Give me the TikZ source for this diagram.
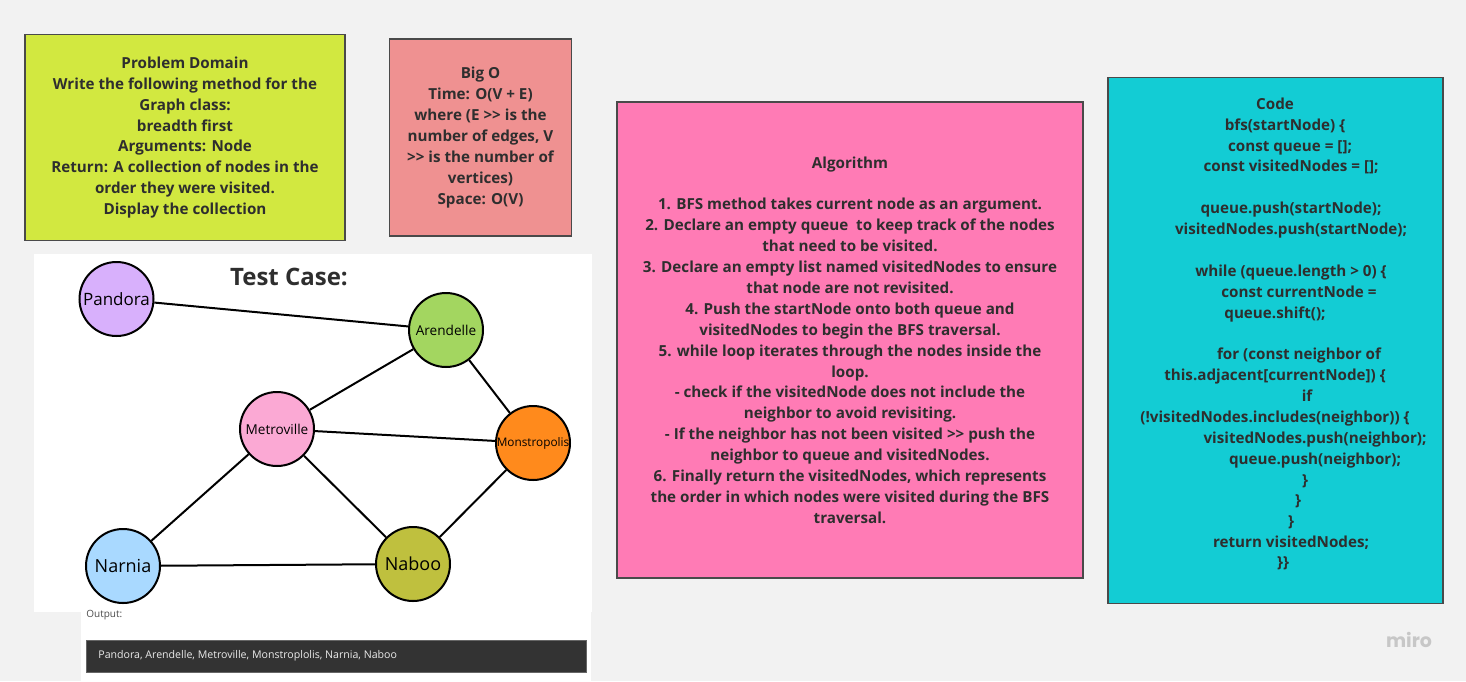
\documentclass[tikz,border=0pt]{standalone}
\usepackage{fontspec}
\setmainfont{Open Sans}
\newfontfamily\logofont{Poppins}

\definecolor{boardbg}{HTML}{F2F2F2}
\definecolor{cardline}{HTML}{4A4A4A}
\definecolor{cardtext}{HTML}{2E2E2E}
\definecolor{lime}{HTML}{D2E840}
\definecolor{salmon}{HTML}{EF9191}
\definecolor{hotpink}{HTML}{FF7BB5}
\definecolor{teal}{HTML}{13CCD4}
\definecolor{pandoracol}{HTML}{D8B0FC}
\definecolor{arendellecol}{HTML}{A3D660}
\definecolor{metrocol}{HTML}{FBA9D4}
\definecolor{monstrocol}{HTML}{FF8A1C}
\definecolor{narniacol}{HTML}{A9D9FF}
\definecolor{naboocol}{HTML}{BFC03E}

\tikzset{
  card/.style={draw=cardline, line width=0.75pt, align=center, text=cardtext,
    font=\bfseries\fontsize{7.6}{10.45}\selectfont, inner sep=0pt},
  codeline/.style={text=cardtext, inner sep=0pt, text height=5.5pt, text depth=1.5pt,
    font=\bfseries\fontsize{7.6}{10.45}\selectfont},
  town/.style={circle, draw=black, line width=1pt, minimum size=37pt, inner sep=0pt},
  road/.style={line width=1pt}
}

\begin{document}
\begin{tikzpicture}[x=0.5pt, y=-0.5pt]
  \fill[boardbg] (0,0) rectangle (1466,681);
  \useasboundingbox (0,0) rectangle (1466,681);

  \node[card, fill=lime, minimum width=160pt, minimum height=103pt] (problem) at (185,137.5)
    {Problem Domain\\Write the following method for the\\Graph class:\\breadth first\\
     Arguments: Node\\Return: A collection of nodes in the\\order they were visited.\\Display the collection};

  \node[card, fill=salmon, minimum width=91pt, minimum height=98.5pt] (bigo) at (480.5,137.5)
    {Big O\\Time: O(V + E)\\where (E >{}> is the\\number of edges, V\\>{}> is the number of\\vertices)\\Space: O(V)};

  \node[card, fill=hotpink, minimum width=233pt, minimum height=238pt] (algo) at (850,340)
    {Algorithm\\[10.45pt]
     1. BFS method takes current node as an argument.\\
     2. Declare an empty queue \ to keep track of the nodes\\
     that need to be visited.\\
     3. Declare an empty list named visitedNodes to ensure\\
     that node are not revisited.\\
     4. Push the startNode onto both queue and\\
     visitedNodes to begin the BFS traversal.\\
     5. while loop iterates through the nodes inside the\\
     loop.\\
     - check if the visitedNode does not include the\\
     neighbor to avoid revisiting.\\
     - If the neighbor has not been visited >{}> push the\\
     neighbor to queue and visitedNodes.\\
     6. Finally return the visitedNodes, which represents\\
     the order in which nodes were visited during the BFS\\
     traversal.};

  \node[card, fill=teal, minimum width=167.5pt, minimum height=263pt] (code) at (1275.5,340.5) {};
  \foreach \cx/\cy/\txt [count=\i] in {
      1275/105/{Code},
      1285/126/{bfs(startNode) \{},
      1290/147/{const queue = [];},
      1291/167/{const visitedNodes = [];},
      1291/209/{queue.push(startNode);},
      1291/230/{visitedNodes.push(startNode);},
      1291/272/{while (queue.length > 0) \{},
      1299/293/{const currentNode =},
      1275/314/{queue.shift();},
      1299/355/{for (const neighbor of},
      1275/376/{this.adjacent[currentNode]) \{},
      1307/397/{if},
      1275/418/{(!visitedNodes.includes(neighbor)) \{},
      1315/439/{visitedNodes.push(neighbor);},
      1315/460/{queue.push(neighbor);},
      1305/481/{\}},
      1298/501/{\}},
      1291/522/{\}},
      1291/543/{return visitedNodes;},
      1283/563/{\}\}}}
    \node[codeline] (codeline\i) at (\cx,\cy) {\txt};

  \fill[white] (34,254) rectangle (592,612);
  \fill[white] (81,612) rectangle (591,681);
  \node[font=\bfseries\fontsize{12}{14}\selectfont, text=cardtext] (title) at (289,277) {Test Case:};

  \node[town, fill=pandoracol, font=\fontsize{8.5}{9}\selectfont] (pandora) at (116.5,299) {Pandora};
  \node[town, fill=arendellecol, font=\fontsize{6.8}{7}\selectfont] (arendelle) at (446,330) {Arendelle};
  \node[town, fill=metrocol, font=\fontsize{6.8}{7}\selectfont] (metroville) at (277,429) {Metroville};
  \node[town, fill=monstrocol, font=\fontsize{5.9}{6}\selectfont] (monstropolis) at (533,443) {Monstropolis};
  \node[town, fill=narniacol, font=\fontsize{9}{9}\selectfont] (narnia) at (123,566) {Narnia};
  \node[town, fill=naboocol, font=\fontsize{9}{9}\selectfont] (naboo) at (413,564) {Naboo};

  \draw[road] (pandora) -- (arendelle);
  \draw[road] (arendelle) -- (metroville);
  \draw[road] (arendelle) -- (monstropolis);
  \draw[road] (metroville) -- (monstropolis);
  \draw[road] (metroville) -- (narnia);
  \draw[road] (metroville) -- (naboo);
  \draw[road] (monstropolis) -- (naboo);
  \draw[road] (narnia) -- (naboo);

  \node[anchor=west, inner sep=0pt, text=black!70, font=\fontsize{5}{6}\selectfont] (outlabel) at (86,615) {Output:};
  \node[fill=black!80, draw=black!60, line width=0.4pt, minimum width=250pt, minimum height=16pt, inner sep=0pt] (outbar) at (336,656) {};
  \node[anchor=west, inner sep=0pt, text=white!92!black, font=\fontsize{5.3}{6}\selectfont] (outtext) at (98,656)
    {Pandora, Arendelle, Metroville, Monstroplolis, Narnia, Naboo};

  \node[text=black!22, font=\logofont\bfseries\fontsize{9.5}{10}\selectfont] (logo) at (1409,640) {miro};
\end{tikzpicture}
\end{document}
